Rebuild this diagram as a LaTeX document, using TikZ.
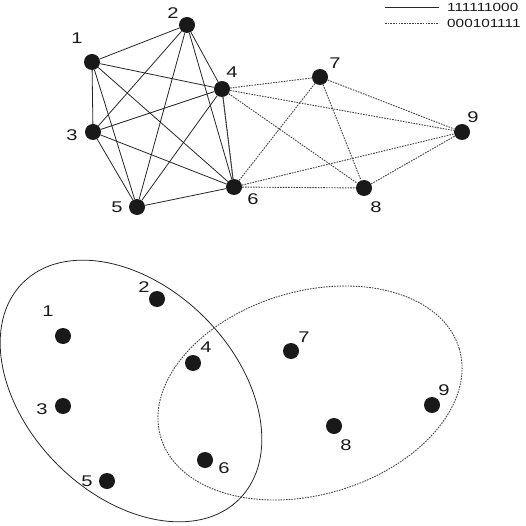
\documentclass[tikz,border=0pt]{standalone}
\usepackage{fontspec}
\setmainfont{Liberation Sans}
\usepackage{graphicx}
\newcommand{\widetxt}[1]{\scalebox{1.3}[1]{#1}}
\tikzset{
  dot/.style={circle,fill=black!90,inner sep=0pt,minimum size=16pt},
  lbl/.style={inner sep=0pt,font=\fontsize{15.5}{17}\selectfont,text=black!90},
  legtxt/.style={inner sep=0pt,anchor=west,font=\fontsize{11.8}{14}\selectfont,text=black!90},
  full/.style={draw=black!85,line width=0.8pt},
  dots/.style={draw=black!75,line width=0.9pt,dash pattern=on 1.6pt off 1.1pt},
}

\begin{document}
\begin{tikzpicture}[x=1pt,y=-1pt]
  \useasboundingbox (0,0) rectangle (526,526);

  % top graph
  \foreach \n/\x/\y/\lx/\ly in {1/92/62/77/38, 2/187/25/173/13, 3/93/132/72/135,
      4/222/89/232/72, 5/137/207/117/207, 6/234/187/253/199,
      7/320/77/335/63, 8/364/188/376/207, 9/462/132/473/117} {
    \node[dot] (t\n) at (\x,\y) {};
    \node[lbl] (t\n l) at (\lx,\ly) {\widetxt{\n}};
  }
  \foreach \a/\b in {1/2,1/3,1/4,1/5,1/6,2/3,2/4,2/5,2/6,3/4,3/5,3/6,4/5,4/6,5/6}
    \draw[full] (t\a) -- (t\b);
  \foreach \a/\b in {4/6,4/7,4/8,4/9,6/7,6/8,6/9,7/8,7/9,8/9}
    \draw[dots] (t\a) -- (t\b);

  % legend
  \node[legtxt] (k1) at (447,7) {\widetxt{111111000}};
  \node[legtxt] (k2) at (447,23) {\widetxt{000101111}};
  \coordinate (k1a) at (385,7);
  \coordinate (k1b) at (439,7);
  \coordinate (k2a) at (385,23);
  \coordinate (k2b) at (439,23);
  \draw[full] (k1a) -- (k1b);
  \draw[dots] (k2a) -- (k2b);

  % bottom sets
  \draw[full,rotate around={-45:(131,391)}] (131,391) ellipse [x radius=153,y radius=104];
  \draw[dots,rotate around={16.5:(310,393)}] (310,393) ellipse [x radius=155.7,y radius=101.6];
  \foreach \n/\x/\y/\lx/\ly in {1/63/336/48/311, 2/157/299/144/287, 3/63/406/42/409,
      4/193/363/206/347, 5/107/481/87/481, 6/205/460/224/468,
      7/291/351/304/337, 8/334/426/346/445, 9/432/405/444/390} {
    \node[dot] (b\n) at (\x,\y) {};
    \node[lbl] (b\n l) at (\lx,\ly) {\widetxt{\n}};
  }
\end{tikzpicture}
\end{document}
